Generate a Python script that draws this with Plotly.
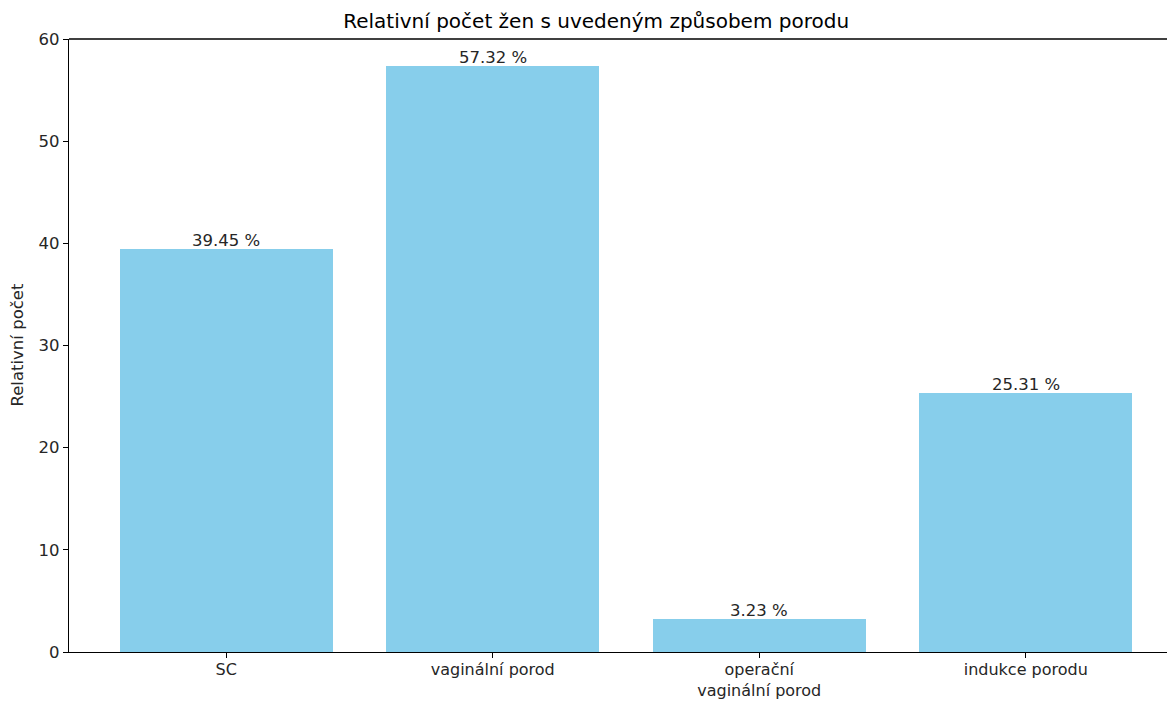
import plotly.graph_objects as go

categories = ["SC", "vaginální porod", "operační<br>vaginální porod", "indukce porodu"]
values = [39.45, 57.32, 3.23, 25.31]
y_ticks = [0, 10, 20, 30, 40, 50, 60]

x_pos = list(range(len(categories)))

FONT = "DejaVu Sans"
FS = 16.5

fig = go.Figure()
fig.add_trace(go.Bar(
    x=x_pos, y=values, width=0.8,
    marker=dict(color="#87CEEB", line=dict(width=0)),
    hoverinfo="skip",
))

for xp, v in zip(x_pos, values):
    fig.add_annotation(
        x=xp, y=v, xref="x", yref="y", text=f"{v:.2f} %",
        showarrow=False, yanchor="bottom", xanchor="center",
        font=dict(family=FONT, size=FS, color="#262626"),
        borderpad=0, yshift=-2,
    )

fig.add_annotation(
    x=-0.047, y=0.5, xref="paper", yref="paper", text="Relativní počet",
    textangle=-90, showarrow=False, xanchor="center", yanchor="middle",
    font=dict(family=FONT, size=FS, color="#262626"),
)

fig.add_shape(type="line", xref="paper", yref="paper", x0=0, x1=1, y0=1, y1=1,
              line=dict(color="black", width=1.3))

fig.update_layout(
    width=1167, height=693,
    margin=dict(l=61, r=0, t=31, b=49, autoexpand=False),
    plot_bgcolor="white", paper_bgcolor="white",
    showlegend=False,
    title=dict(text="Relativní počet žen s uvedeným způsobem porodu",
               x=0.504, xanchor="center", y=1 - 13 / 693, yanchor="middle",
               font=dict(family=FONT, size=20, color="black")),
    font=dict(family=FONT, size=FS, color="#262626"),
    bargap=0,
)
fig.update_xaxes(
    range=[-0.59, 3.56], tickmode="array", tickvals=x_pos, ticktext=categories,
    showline=True, linecolor="black", linewidth=1.3, mirror=False,
    ticks="outside", ticklen=5, tickwidth=1, tickcolor="black",
    showgrid=False, zeroline=False, tickfont=dict(size=16, color="#262626"),
    ticklabelstandoff=-2,
    fixedrange=True,
)
fig.update_yaxes(
    range=[0, 60], tickmode="array", tickvals=y_ticks,
    showline=True, linecolor="black", linewidth=1.3, mirror=False,
    ticks="outside", ticklen=5, tickwidth=1, tickcolor="black",
    showgrid=False, zeroline=False, tickfont=dict(size=FS, color="#262626"),
    fixedrange=True,
)

fig.write_html("out.html")
